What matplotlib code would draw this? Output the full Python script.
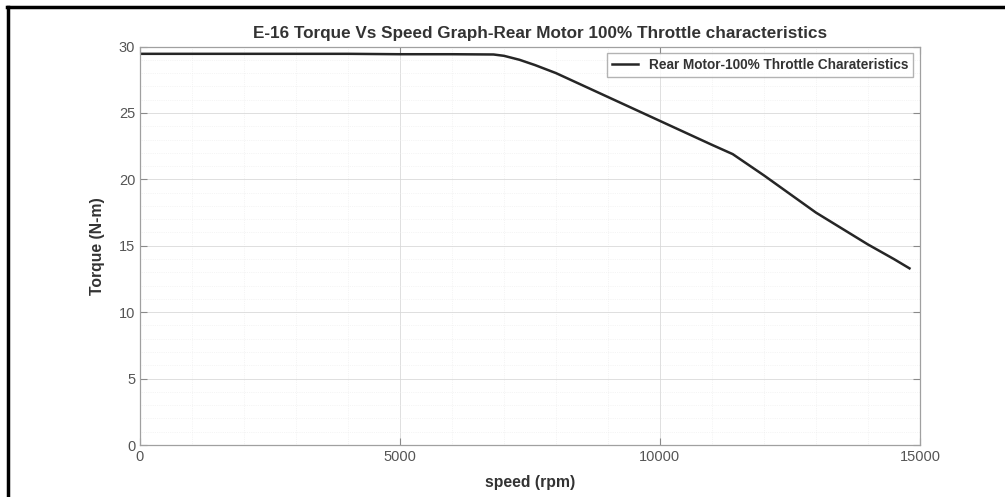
import matplotlib.pyplot as plt
from matplotlib.lines import Line2D
from matplotlib.ticker import MultipleLocator

plt.rcParams['font.family'] = ['Liberation Sans', 'DejaVu Sans']

# Rear motor torque curve at 100% throttle
speed_rpm = [0, 1000, 2000, 3000, 4000, 5000, 6000, 6800, 7000, 7300, 7600,
             8000, 8500, 9000, 9500, 10000, 10500, 11000, 11400, 12000,
             12500, 13000, 13500, 14000, 14500, 14800]
torque_nm = [29.45, 29.45, 29.45, 29.45, 29.45, 29.42, 29.42, 29.4, 29.3, 29.0, 28.6,
             28.0, 27.1, 26.2, 25.3, 24.4, 23.5, 22.6, 21.9, 20.3,
             18.9, 17.5, 16.3, 15.1, 14.0, 13.3]

x_ticks = [0, 5000, 10000, 15000]
y_ticks = [0, 5, 10, 15, 20, 25, 30]

fig = plt.figure(figsize=(10.05, 4.97), dpi=100)
ax = fig.add_axes([0.1393, 0.1046, 0.776, 0.8018])

ax.plot(speed_rpm, torque_nm, color='#262626', lw=1.8,
        label='Rear Motor-100% Throttle Charateristics')

ax.set_xlim(0, 15000)
ax.set_ylim(0, 30)
ax.set_xticks(x_ticks)
ax.set_yticks(y_ticks)
ax.xaxis.set_minor_locator(MultipleLocator(1000))
ax.yaxis.set_minor_locator(MultipleLocator(1))

ax.grid(which='major', color='#d9d9d9', lw=0.6)
ax.grid(which='minor', color='#ececec', lw=0.5, ls=':')
ax.set_axisbelow(True)

ax.tick_params(which='both', direction='in', top=True, right=True,
               colors='#8a8a8a', labelcolor='#555555', labelsize=10.5)
ax.tick_params(which='minor', length=0)
ax.tick_params(which='major', length=5)
for s in ax.spines.values():
    s.set_color('#a0a0a0')
    s.set_linewidth(0.9)

ax.set_title('E-16 Torque Vs Speed Graph-Rear Motor 100% Throttle characteristics',
             fontsize=12.3, fontweight='bold', color='#333333', pad=6, x=0.513)
ax.set_xlabel('speed (rpm)', fontsize=11.3, fontweight='bold', color='#333333', labelpad=8)
ax.set_ylabel('Torque (N-m)', fontsize=11.3, fontweight='bold', color='#333333', labelpad=10)

leg = ax.legend(loc='upper right', fontsize=9.8, frameon=True, fancybox=False,
                edgecolor='#a0a0a0', borderaxespad=0.5, handlelength=1.9,
                borderpad=0.35)
for t in leg.get_texts():
    t.set_fontweight('bold')
    t.set_color('#333333')

# black frame on top and left edges of the screenshot
fig.add_artist(Line2D([7 / 1005, 1.0], [1 - 6.5 / 497, 1 - 6.5 / 497],
                      color='black', lw=2.5, transform=fig.transFigure))
fig.add_artist(Line2D([7.5 / 1005, 7.5 / 1005], [0, 1 - 6.5 / 497],
                      color='black', lw=2.5, transform=fig.transFigure))

fig.savefig('out.png', dpi=100)
